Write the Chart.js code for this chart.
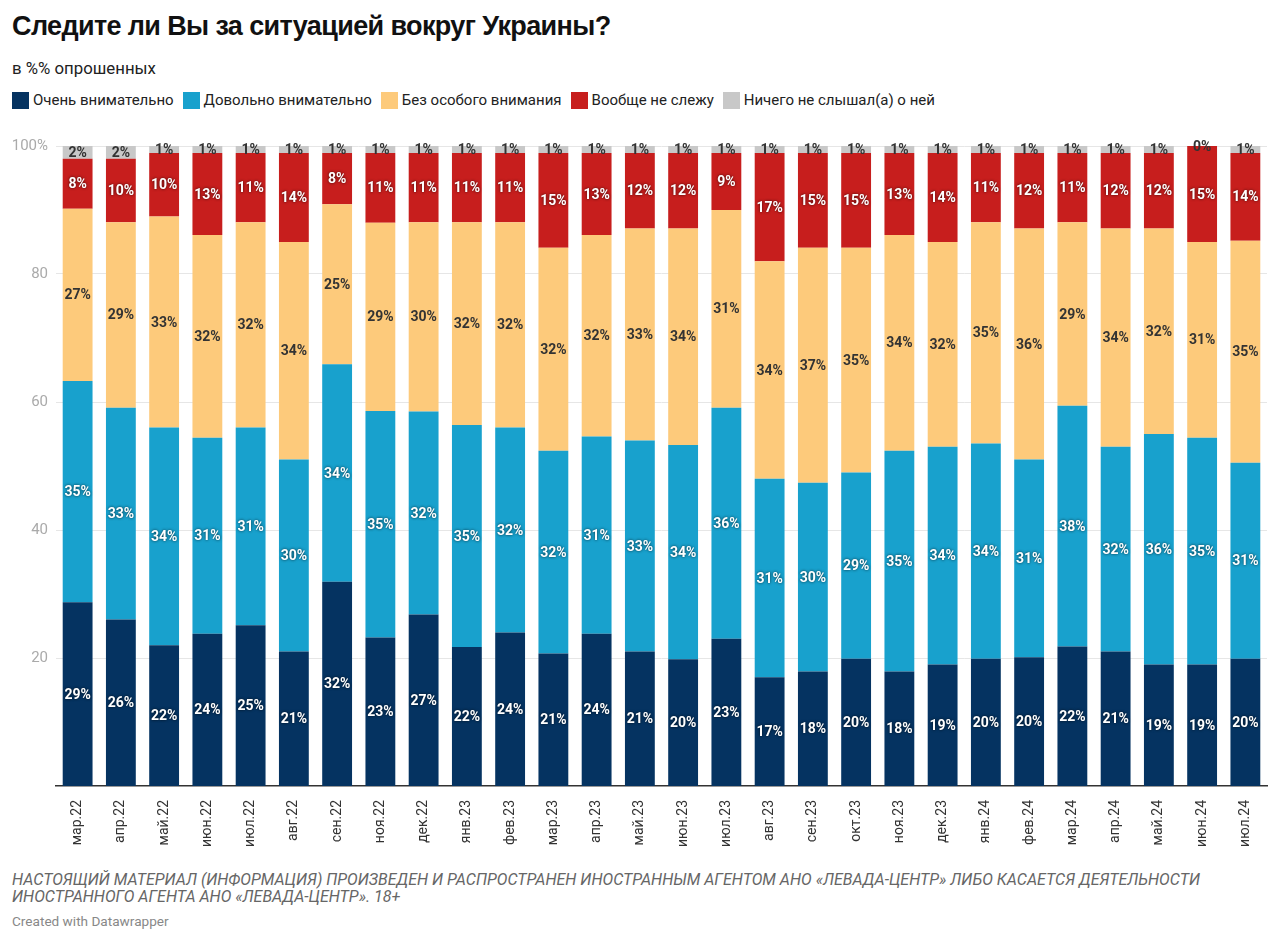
<!DOCTYPE html>
<html>
<head>
<meta charset="utf-8">
<script src="https://cdn.jsdelivr.net/npm/chart.js@4"></script>
<style>
  body { margin: 0; background: #fff; font-family: Roboto, "Noto Sans", sans-serif; color: #222; }
  #wrap { position: relative; width: 1280px; height: 943px; }
  h1 { position: absolute; left: 12px; top: 11px; margin: 0; font: bold 27px "Liberation Sans", Arial, sans-serif; letter-spacing: -0.62px; color: #111; }
  .sub { position: absolute; left: 12px; top: 58px; font-size: 16.8px; color: #222; }
  .legend { position: absolute; left: 12px; top: 91px; font-size: 15px; color: #222; display: flex; }
  .legend span { display: flex; align-items: center; margin-right: 9px; }
  .legend i { display: inline-block; width: 17px; height: 17px; margin-right: 4px; }
  #box { position: absolute; left: 0; top: 129px; width: 1280px; height: 721px; }
  .note { position: absolute; left: 12px; top: 871px; font-size: 16px; font-style: italic; color: #666; line-height: 17px; width: 1250px; }
  .credit { position: absolute; left: 12px; top: 913px; font-size: 13.6px; color: #888; }
</style>
</head>
<body>
<div id="wrap">
  <h1>Следите ли Вы за ситуацией вокруг Украины?</h1>
  <div class="sub">в %% опрошенных</div>
  <div class="legend" id="legend"></div>
  <div id="box"><canvas id="chart"></canvas></div>
  <div class="note">НАСТОЯЩИЙ МАТЕРИАЛ (ИНФОРМАЦИЯ) ПРОИЗВЕДЕН И РАСПРОСТРАНЕН ИНОСТРАННЫМ АГЕНТОМ АНО «ЛЕВАДА-ЦЕНТР» ЛИБО КАСАЕТСЯ ДЕЯТЕЛЬНОСТИ<br>ИНОСТРАННОГО АГЕНТА АНО «ЛЕВАДА-ЦЕНТР». 18+</div>
  <div class="credit">Created with Datawrapper</div>
</div>
<script>
// months
let months = ["мар.22","апр.22","май.22","июн.22","июл.22","авг.22","сен.22","ноя.22","дек.22",
  "янв.23","фев.23","мар.23","апр.23","май.23","июн.23","июл.23","авг.23","сен.23","окт.23",
  "ноя.23","дек.23","янв.24","фев.24","мар.24","апр.24","май.24","июн.24","июл.24"];

// series (% of respondents)
let veryAttentive   = [28.7,26.0,22.0,23.8,25.1,21.0,31.9,23.2,26.8,21.7,24.0,20.7,23.8,21.0,19.8,23.0,17.0,17.9,19.9,17.9,19.0,19.9,20.1,21.8,21.0,19.0,19.0,19.9];
let fairlyAttentive = [34.6,33.1,34.0,30.6,30.9,30.0,34.0,35.4,31.7,34.7,32.0,31.7,30.8,33.0,33.5,36.1,31.0,29.5,29.1,34.5,34.0,33.6,30.9,37.6,32.0,36.0,35.4,30.6];
let notMuch         = [26.9,29.0,33.0,31.7,32.1,34.0,25.0,29.4,29.6,31.7,32.1,31.7,31.5,33.1,33.8,30.9,34.0,36.7,35.1,33.7,32.0,34.6,36.1,28.7,34.1,32.1,30.6,34.7];
let notFollowing    = [7.8,9.9,9.9,12.8,10.8,13.9,8.0,10.9,10.8,10.8,10.8,14.8,12.8,11.8,11.8,8.9,16.9,14.8,14.8,12.8,13.9,10.8,11.8,10.8,11.8,11.8,15.0,13.7];
let neverHeard      = [2.0,2.0,1.1,1.1,1.1,1.1,1.1,1.1,1.1,1.1,1.1,1.1,1.1,1.1,1.1,1.1,1.1,1.1,1.1,1.1,1.1,1.1,1.1,1.1,1.1,1.1,0,1.1];

let seriesNames = ["Очень внимательно","Довольно внимательно","Без особого внимания","Вообще не слежу","Ничего не слышал(а) о ней"];
let seriesColors = ["#053361","#18a1cd","#fdca7b","#c71e1d","#c8c8c8"];
let labelColors = ["#fff","#fff","#333","#fff","#333"];
let yTicks = [20,40,60,80,100];

// html legend
document.getElementById("legend").innerHTML = seriesNames.map((n,i)=>
  `<span><i style="background:${seriesColors[i]}"></i>${n}</span>`).join('');

let allSeries = [veryAttentive, fairlyAttentive, notMuch, notFollowing, neverHeard];

// value labels in the middle of each segment
const segLabels = {
  id: 'segLabels',
  afterDatasetsDraw(chart) {
    let ctx = chart.ctx;
    ctx.save();
    ctx.font = 'bold 14px Roboto, sans-serif';
    ctx.textAlign = 'center';
    ctx.textBaseline = 'middle';
    chart.data.datasets.forEach((ds, di) => {
      let meta = chart.getDatasetMeta(di);
      meta.data.forEach((bar, i) => {
        let v = ds.data[i];
        let y = (bar.y + bar.base) / 2;
        let txt = Math.round(v) + '%';
        if (labelColors[di] === '#fff') {
          ctx.shadowColor = 'rgba(0,0,0,0.75)';
          ctx.shadowBlur = 3;
        } else {
          ctx.shadowColor = 'transparent';
          ctx.shadowBlur = 0;
        }
        ctx.fillStyle = labelColors[di];
        ctx.fillText(txt, bar.x, y + 1);
      });
    });
    ctx.restore();
  }
};

new Chart(document.getElementById("chart").getContext("2d"), {
  type: 'bar',
  data: {
    labels: months,
    datasets: allSeries.map((d, i) => ({
      label: seriesNames[i],
      data: d,
      backgroundColor: seriesColors[i],
      barPercentage: 0.69,
      categoryPercentage: 1
    }))
  },
  options: {
    responsive: true,
    maintainAspectRatio: false,
    animation: false,
    layout: { padding: { top: 4, right: 13, left: 0, bottom: 0 } },
    plugins: { legend: { display: false }, tooltip: { enabled: false } },
    scales: {
      x: {
        stacked: true,
        grid: { display: false },
        border: { color: '#333', width: 1.5 },
        ticks: { minRotation: 90, maxRotation: 90, color: '#333', padding: 6, font: { size: 14, family: 'Roboto' } },
        afterFit(s) { s.height = 64; }
      },
      y: {
        stacked: true,
        min: 0, max: 100,
        afterBuildTicks(s) { s.ticks = yTicks.map(v => ({ value: v })); },
        grid: { color: '#e6e6e6', drawTicks: false },
        border: { display: false },
        ticks: {
          color: '#aaa', padding: 8, font: { size: 15, family: 'Roboto' },
          callback: v => v === 100 ? '100%' : v
        },
        afterFit(s) { s.width = 56; }
      }
    }
  },
  plugins: [segLabels]
});
</script>
</body>
</html>
